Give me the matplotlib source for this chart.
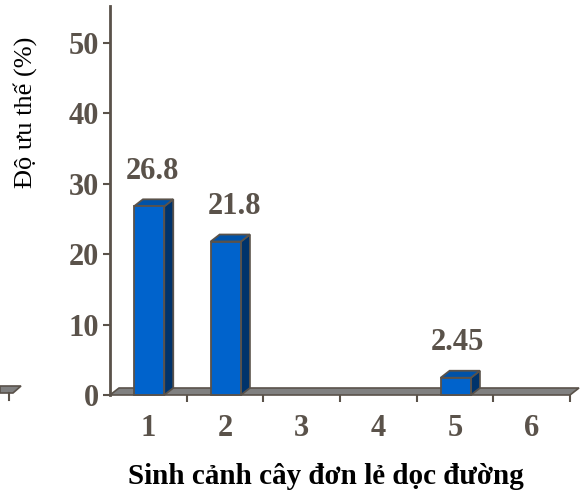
import matplotlib
matplotlib.use("Agg")
import matplotlib.pyplot as plt
from matplotlib.patches import Polygon, Rectangle
from matplotlib.lines import Line2D
from matplotlib.transforms import Affine2D

# Data
categories = ["1", "2", "3", "4", "5", "6"]
values = [26.8, 21.8, 0, 0, 2.45, 0]
value_labels = ["26.8", "21.8", "", "", "2.45", ""]
y_ticks = [0, 10, 20, 30, 40, 50]

# Style
W, H = 581, 499
DPI = 100
axis_col = "#5a524a"
front_col = "#0063cc"
side_col = "#00336b"
top_col = "#0052a8"
floor_col = "#808080"
serif = ["Liberation Serif", "DejaVu Serif"]
num_size = 22
label_dx = [3, 7, 0, 0, 2, 0]  # horizontal nudge of value labels (points)

fig = plt.figure(figsize=(W / DPI, H / DPI), dpi=DPI)
left_px, right_px, bottom_px, top_px = 110, 570, 395, 6
ax = fig.add_axes([left_px / W, (H - bottom_px) / H,
                   (right_px - left_px) / W, (bottom_px - top_px) / H])
ymax = (bottom_px - top_px) / 7.04
ax.set_xlim(0.5, 6.5)
ax.set_ylim(0, ymax)

# depth offsets of the pseudo-3D effect, in data units
dx = 9 / ((right_px - left_px) / 6)
dy = 7 / 7.04

# floor
floor = Polygon([(0.5, 0), (0.5 + dx, dy), (6.5 + dx, dy), (6.5, 0)],
                closed=True, facecolor=floor_col, edgecolor=axis_col,
                linewidth=1.2, clip_on=False, zorder=2)
ax.add_patch(floor)

# bars
bw = 0.395
for i, v in enumerate(values):
    if v <= 0:
        continue
    c = i + 1
    x0 = c - bw / 2 + 0.01
    x1 = x0 + bw
    side = Polygon([(x1, 0), (x1 + dx, dy), (x1 + dx, v + dy), (x1, v)],
                   closed=True, facecolor=side_col, edgecolor=axis_col,
                   linewidth=1.3, clip_on=False, zorder=3)
    top = Polygon([(x0, v), (x0 + dx, v + dy), (x1 + dx, v + dy), (x1, v)],
                  closed=True, facecolor=top_col, edgecolor=axis_col,
                  linewidth=1.3, clip_on=False, zorder=3)
    front = Rectangle((x0, 0), bw, v, facecolor=front_col,
                      edgecolor=axis_col, linewidth=1.3, clip_on=False,
                      zorder=4)
    for p in (side, top, front):
        ax.add_patch(p)
    ax.annotate(value_labels[i], xy=(c, v), xytext=(label_dx[i], 20),
                textcoords="offset points", ha="center", va="baseline",
                fontsize=num_size, fontweight="bold", family=serif,
                color=axis_col)

# axes styling
for s in ("top", "right", "bottom"):
    ax.spines[s].set_visible(False)
ax.spines["left"].set_color(axis_col)
ax.spines["left"].set_linewidth(2)
ax.set_yticks(y_ticks)
ax.set_yticklabels([str(t) for t in y_ticks])
ax.set_xticks([1.5, 2.5, 3.5, 4.5, 5.5, 6.5])
ax.set_xticklabels([])
ax.tick_params(axis="y", direction="out", length=5, width=1.5,
               color=axis_col, pad=3)
ax.tick_params(axis="x", direction="out", length=5, width=1.5,
               color=axis_col)
for lab in ax.get_yticklabels():
    lab.set_fontfamily(serif)
    lab.set_fontweight("bold")
    lab.set_fontsize(num_size)
    lab.set_color(axis_col)

# category labels centred under each slot
for i, cat in enumerate(categories):
    ax.annotate(cat, xy=(i + 1, 0), xytext=(0, -14),
                textcoords="offset points", ha="center", va="top",
                fontsize=num_size, fontweight="bold", family=serif,
                color=axis_col, annotation_clip=False)

fig.text(326 / W, 1 - 477 / H, "Sinh cảnh cây đơn lẻ dọc đường",
         ha="center", va="center", fontsize=21, fontweight="bold",
         family=serif, color="black")
fig.text(25 / W, 1 - 112 / H, "Độ ưu thế (%)", rotation=90,
         ha="center", va="center", fontsize=19, family=serif,
         color="black")

# neighbouring floor fragment at the left edge (pixel coordinates)
px = Affine2D().scale(1, -1).translate(0, H)
frag = Polygon([(0, 393), (13, 393), (21, 386), (0, 386)], closed=True,
               facecolor=floor_col, edgecolor=axis_col, linewidth=1.2)
frag.set_transform(px)
fig.add_artist(frag)
fig.add_artist(Line2D([9, 9], [393, 400], color=axis_col,
                      linewidth=1.5, transform=px))

fig.savefig("out.png", dpi=DPI)
